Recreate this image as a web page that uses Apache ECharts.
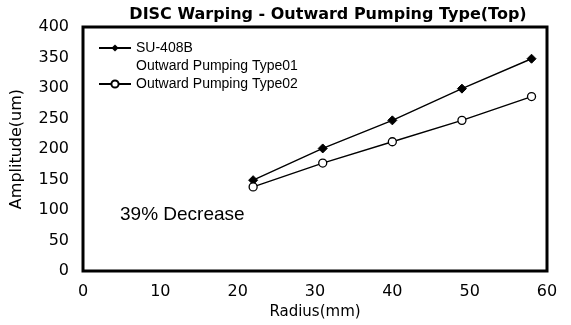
<!DOCTYPE html>
<html>
<head>
<meta charset="utf-8">
<script src="https://cdn.jsdelivr.net/npm/echarts@6/dist/echarts.min.js"></script>
<style>html,body{margin:0;padding:0;background:#fff}#c{width:571px;height:325px}</style>
</head>
<body>
<div id="c"></div>
<script>
var radius = [22, 31, 40, 49, 58];
var su408b = [149, 201, 247, 299, 348];
var type02 = [138, 177, 212, 247, 286];
var xTicks = [0, 10, 20, 30, 40, 50, 60];
var yTicks = [0, 50, 100, 150, 200, 250, 300, 350, 400];
var seriesNames = ['SU-408B', 'Outward Pumping Type02'];
var type01Label = 'Outward Pumping Type01';
var title = 'DISC Warping - Outward Pumping Type(Top)';
var note = '39% Decrease';

function pairs(xs, ys) { return xs.map(function (x, i) { return [x, ys[i]]; }); }

var chart = echarts.init(document.getElementById('c'), null, {renderer: 'canvas'});
chart.setOption({
  animation: false,
  backgroundColor: '#fff',
  title: {
    text: title, left: 323, textAlign: 'center', top: 2,
    textStyle: {fontFamily: 'DejaVu Sans', fontWeight: 'bold', fontSize: 16, color: '#000'}
  },
  legend: {
    orient: 'vertical', left: 93, top: 16, itemWidth: 32, itemHeight: 9, itemGap: 0,
    textStyle: {fontFamily: 'Liberation Sans', fontSize: 14, color: '#000', lineHeight: 18},
    data: [seriesNames[0], seriesNames[1]],
    formatter: function (n) { return n === seriesNames[0] ? ' \n' + n + '\n' + type01Label : n; }
  },
  grid: {left: 83, right: 24, top: 27, bottom: 46, show: true, borderColor: '#000', borderWidth: 3, backgroundColor: 'transparent'},
  xAxis: {
    type: 'value', min: xTicks[0], max: xTicks[xTicks.length - 1], interval: 10,
    name: 'Radius(mm)', nameLocation: 'middle', nameGap: 28,
    nameTextStyle: {fontFamily: 'DejaVu Sans', fontSize: 15, color: '#000'},
    axisLine: {show: false}, axisTick: {show: false}, splitLine: {show: false},
    axisLabel: {margin: 13, fontFamily: 'DejaVu Sans', fontSize: 16, color: '#000'}
  },
  yAxis: {
    type: 'value', min: yTicks[0], max: yTicks[yTicks.length - 1], interval: 50,
    name: 'Amplitude(um)', nameLocation: 'middle', nameGap: 58, nameRotate: 90,
    nameTextStyle: {fontFamily: 'DejaVu Sans', fontSize: 16, color: '#000'},
    axisLine: {show: false}, axisTick: {show: false}, splitLine: {show: false},
    axisLabel: {margin: 14, fontFamily: 'DejaVu Sans', fontSize: 16, color: '#000'}
  },
  graphic: [{
    type: 'text', left: 120, top: 205,
    style: {text: note, fontFamily: 'Liberation Sans', fontSize: 19, fill: '#000'}
  }],
  series: [
    {
      name: seriesNames[0], type: 'line', data: pairs(radius, su408b),
      symbol: 'diamond', symbolSize: 9,
      lineStyle: {color: '#000', width: 1.4},
      itemStyle: {color: '#000', borderColor: '#000'}
    },
    {
      name: seriesNames[1], type: 'line', data: pairs(radius, type02),
      symbol: 'circle', symbolSize: 8,
      lineStyle: {color: '#000', width: 1.4},
      itemStyle: {color: '#fff', borderColor: '#000', borderWidth: 1.3}
    }
  ]
});
</script>
</body>
</html>
